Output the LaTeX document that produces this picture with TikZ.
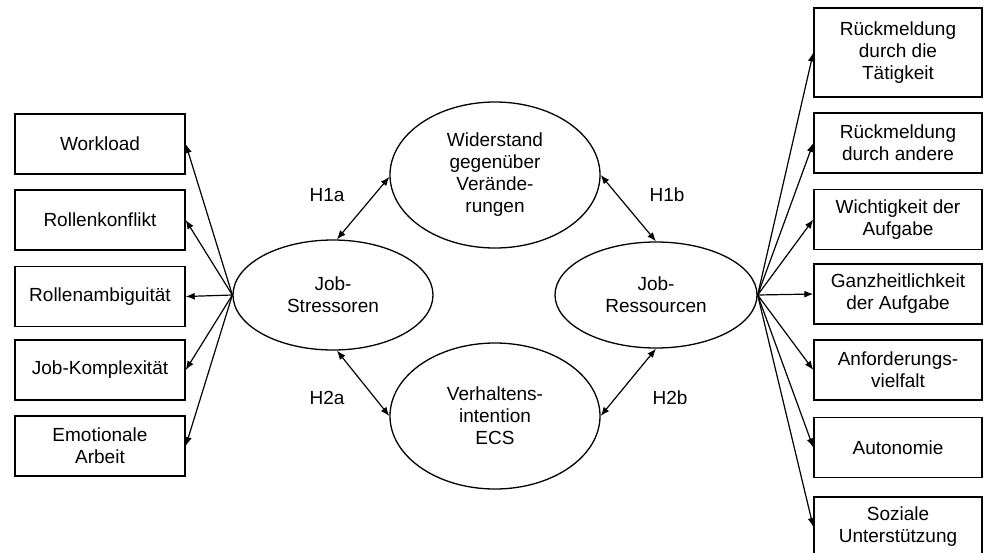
\documentclass[tikz,border=0pt]{standalone}
\usepackage{fontspec}
\setmainfont{Liberation Sans}
\usetikzlibrary{shapes.geometric,arrows.meta}
\begin{document}
\begin{tikzpicture}[x=1pt,y=-1pt,
  txt/.style={font=\fontsize{19}{22}\selectfont, align=center},
  box/.style={txt, draw, line width=1.4pt, inner sep=0pt, minimum height=60pt},
  lbox/.style={box, minimum width=170pt},
  rbox/.style={box, minimum width=168pt},
  ell/.style={txt, draw, ellipse, line width=1.3pt, inner sep=0pt},
  arr/.style={line width=1.2pt, -{Latex[length=9pt,width=7pt]}},
  darr/.style={line width=1.2pt, {Latex[length=9pt,width=7pt]}-{Latex[length=9pt,width=7pt]}},
  hyp/.style={txt}]
\useasboundingbox (0,0) rectangle (984,552);
% left boxes
\node[lbox] (l1) at (100,144) {Workload};
\node[lbox] (l2) at (100,220) {Rollenkonflikt};
\node[lbox] (l3) at (100,296.5) {Rollenambiguität};
\node[lbox] (l4) at (100,370) {Job-Komplexität};
\node[lbox] (l5) at (100,446) {Emotionale\\Arbeit};
% right boxes
\node[rbox, minimum height=89pt] (r1) at (898,52.5) {Rückmeldung\\durch die\\Tätigkeit};
\node[rbox] (r2) at (898,143) {Rückmeldung\\durch andere};
\node[rbox] (r3) at (898,219.5) {Wichtigkeit der\\Aufgabe};
\node[rbox] (r4) at (898,294) {Ganzheitlichkeit\\der Aufgabe};
\node[rbox] (r5) at (898,370) {Anforderungs-\\vielfalt};
\node[rbox] (r6) at (898,447.5) {Autonomie};
\node[rbox] (r7) at (898,527) {Soziale\\Unterstützung};
% ellipses
\node[ell, minimum width=210pt, minimum height=146pt] (wid) at (495,175) {Widerstand\\gegenüber\\Verände-\\rungen};
\node[ell, minimum width=210pt, minimum height=146pt] (vi) at (495,416) {Verhaltens-\\intention\\ECS};
\node[ell, minimum width=200pt, minimum height=110pt] (js) at (333,295) {Job-\\Stressoren};
\node[ell, minimum width=202pt, minimum height=106pt] (jr) at (656,295) {Job-\\Ressourcen};
% left arrows
\foreach \b in {l1,l2,l3,l4,l5} \draw[arr] (js.west) -- (\b.east);
% right arrows
\foreach \b in {r1,r2,r3,r4,r5,r6,r7} \draw[arr] (jr.east) -- (\b.west);
% hypotheses
\draw[darr] (js.86) -- (wid.181);
\draw[darr] (wid.east) -- (jr.north);
\draw[darr] (js.-86) -- (vi.west);
\draw[darr] (jr.south) -- (vi.east);
\node[hyp] (h1a) at (327,195) {H1a};
\node[hyp] (h1b) at (667,195) {H1b};
\node[hyp] (h2a) at (327,398) {H2a};
\node[hyp] (h2b) at (670,398) {H2b};
\end{tikzpicture}
\end{document}
